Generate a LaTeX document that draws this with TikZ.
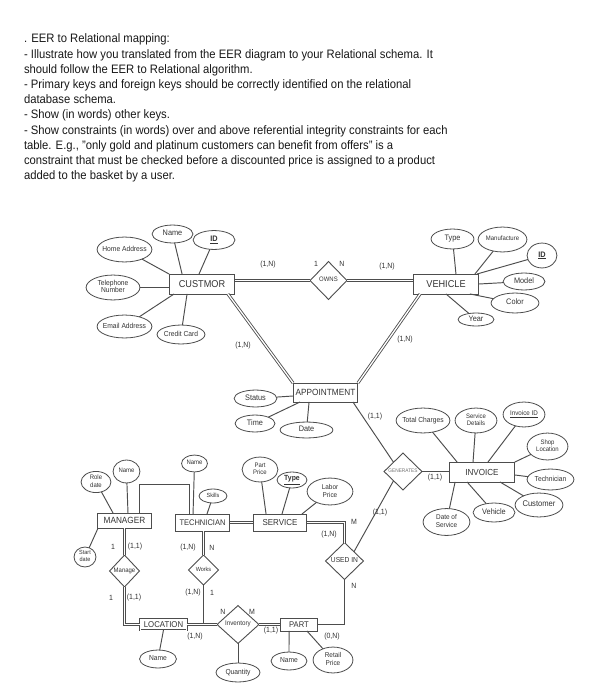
\documentclass[tikz,border=0pt]{standalone}
\usepackage{fontspec}
\setmainfont[FakeStretch=0.92]{Liberation Sans}
\usetikzlibrary{shapes.geometric}
\definecolor{lc}{HTML}{4D4D4D}
\definecolor{tc}{HTML}{333333}
\newcommand{\fsz}[1]{\fontsize{#1}{#1}\selectfont}
\newcommand{\tx}[1]{\makebox[0pt]{\begin{tabular}{@{}c@{}}#1\end{tabular}}}
\begin{document}
\begin{tikzpicture}[x=1bp,y=-1bp,
  every node/.style={inner sep=0pt, outer sep=0pt},
  ln/.style={draw=lc, line width=0.95bp},
  dbl/.style={draw=lc, line width=0.85bp, double=white, double distance=1.3bp},
  attr/.style={ellipse, draw=lc, line width=0.8bp, text=tc, font=\fontsize{7.3}{7.8}\selectfont},
  ent/.style={rectangle, draw=lc, line width=0.9bp, text=tc},
  rel/.style={diamond, draw=lc, line width=0.9bp, text=tc},
  card/.style={text=tc, font=\fsz{7.6}},
  para/.style={anchor=base west, text=black!90, font=\fsz{12.3}}
]
\useasboundingbox[fill=white] (0,0) rectangle (607,700);

% ---------- text ----------
\node[para] (t1) at (24,43.0) {. EER to Relational mapping:};
\node[para] (t2) at (24,58.2) {- Illustrate how you translated from the EER diagram to your Relational schema. It};
\node[para] (t3) at (24,73.4) {should follow the EER to Relational algorithm.};
\node[para] (t4) at (24,88.6) {- Primary keys and foreign keys should be correctly identified on the relational};
\node[para] (t5) at (24,103.8) {database schema.};
\node[para] (t6) at (24,119.0) {- Show (in words) other keys.};
\node[para] (t7) at (24,134.2) {- Show constraints (in words) over and above referential integrity constraints for each};
\node[para] (t8) at (24,149.4) {table. E.g., "only gold and platinum customers can benefit from offers" is a};
\node[para] (t9) at (24,164.6) {constraint that must be checked before a discounted price is assigned to a product};
\node[para] (t10) at (24,179.8) {added to the basket by a user.};

% ---------- entities ----------
\node[ent, minimum width=66, minimum height=20, font=\fsz{10}] (cust) at (202,284) {CUSTMOR};
\node[ent, minimum width=66, minimum height=20, font=\fsz{10}] (veh) at (446,284) {VEHICLE};
\node[ent, minimum width=65, minimum height=19, font=\fsz{9}] (appt) at (325.5,392.5) {APPOINTMENT};
\node[ent, minimum width=66, minimum height=20, font=\fsz{8.8}] (inv) at (482,472) {INVOICE};
\node[ent, minimum width=55, minimum height=15, font=\fsz{9}] (mgr) at (124.5,520.5) {MANAGER};
\node[ent, minimum width=55, minimum height=17, font=\fsz{8.2}] (tech) at (202.5,522.5) {TECHNICIAN};
\node[ent, minimum width=54, minimum height=17, font=\fsz{8.7}] (serv) at (280,522.5) {SERVICE};
\node[ent, minimum width=38, minimum height=13, font=\fsz{8.3}] (part) at (299,624.5) {PART};
\node[ent, double=white, double distance=0.9bp, line width=0.6bp, minimum width=47, minimum height=11, font=\fsz{8.5}] (loc) at (163.5,624.5) {LOCATION};

% ---------- relationships ----------
\node[rel, minimum width=37, minimum height=38, font=\fsz{6.5}] (owns) at (328.5,280.5) {\tx{OWNS}};
\node[rel, minimum width=38, minimum height=37, font=\fsz{5.2}, text=tc!70] (gen) at (403,471.5) {\tx{GENERATES}};
\node[rel, minimum width=38, minimum height=37, font=\fsz{7.3}] (used) at (344.5,561) {\tx{USED IN}};
\node[rel, minimum width=30, minimum height=32, font=\fsz{6.5}] (manage) at (124.5,571) {\tx{Manage}};
\node[rel, minimum width=30, minimum height=30, font=\fsz{6}] (works) at (203.5,570) {\tx{Works}};
\node[rel, minimum width=42, minimum height=38, font=\fsz{6.8}] (invt) at (238,624.5) {\tx{Inventory}};

% ---------- attributes ----------
\node[attr, minimum width=41, minimum height=18, font=\fsz{8}] (cname) at (172.5,234) {\tx{Name}};
\node[attr, minimum width=42, minimum height=19, font=\fsz{8}] (cid) at (214,240) {\tx{\textbf{\underline{ID}}}};
\node[attr, minimum width=55, minimum height=25] (chome) at (124.5,249.5) {\tx{Home Address}};
\node[attr, minimum width=54, minimum height=25] (ctel) at (113,287.5) {\tx{Telephone\\Number}};
\node[attr, minimum width=55, minimum height=23] (cemail) at (124.5,326.5) {\tx{Email Address}};
\node[attr, minimum width=48, minimum height=19] (ccard) at (181,334.5) {\tx{Credit Card}};

\node[attr, minimum width=43, minimum height=20, font=\fsz{8}] (vtype) at (452.5,239) {\tx{Type}};
\node[attr, minimum width=49, minimum height=25, font=\fsz{6.5}] (vman) at (502.5,239.5) {\tx{Manufacture}};
\node[attr, minimum width=30, minimum height=25, font=\fsz{8}] (vid) at (542,255.5) {\tx{\textbf{\underline{ID}}}};
\node[attr, minimum width=42, minimum height=17, font=\fsz{8}] (vmodel) at (524,281.5) {\tx{Model}};
\node[attr, minimum width=48, minimum height=20, font=\fsz{8}] (vcolor) at (515,303) {\tx{Color}};
\node[attr, minimum width=36, minimum height=13, font=\fsz{8}] (vyear) at (476,319.5) {\tx{Year}};

\node[attr, minimum width=43, minimum height=17, font=\fsz{8}] (astatus) at (255.5,398.5) {\tx{Status}};
\node[attr, minimum width=40, minimum height=17, font=\fsz{8}] (atime) at (255,423.5) {\tx{Time}};
\node[attr, minimum width=53, minimum height=16, font=\fsz{8}] (adate) at (306.5,430) {\tx{Date}};

\node[attr, minimum width=54, minimum height=25] (itotal) at (423,420.5) {\tx{Total Charges}};
\node[attr, minimum width=42, minimum height=25, font=\fontsize{6.5}{7.5}\selectfont] (isd) at (476,420.5) {\tx{Service\\Details}};
\node[attr, minimum width=42, minimum height=25, font=\fsz{6.8}] (iid) at (524,414.5) {\tx{\underline{Invoice ID}}};
\node[attr, minimum width=41, minimum height=27, font=\fontsize{6.5}{7.5}\selectfont] (ishop) at (547.5,446.5) {\tx{Shop\\Location}};
\node[attr, minimum width=47, minimum height=21] (itech) at (550.5,479.5) {\tx{Technician}};
\node[attr, minimum width=48, minimum height=24, font=\fsz{8.3}] (icust) at (539,505) {\tx{Customer}};
\node[attr, minimum width=42, minimum height=19, font=\fsz{8}] (iveh) at (494,512.5) {\tx{Vehicle}};
\node[attr, minimum width=47, minimum height=27, font=\fontsize{7}{8}\selectfont] (idate) at (446.5,522) {\tx{Date of\\Service}};

\node[attr, minimum width=30, minimum height=20, font=\fontsize{6.5}{7.5}\selectfont] (mrole) at (96,482) {\tx{Role\\date}};
\node[attr, minimum width=27, minimum height=23, font=\fsz{6.5}] (mname) at (126.5,471.5) {\tx{Name}};
\node[attr, minimum width=22, minimum height=20, font=\fontsize{6}{7}\selectfont] (mstart) at (85,557) {\tx{Start\\date}};

\node[attr, minimum width=26, minimum height=17, font=\fsz{6.5}] (tname) at (194.5,463.5) {\tx{Name}};
\node[attr, minimum width=28, minimum height=14, font=\fsz{6}] (tskills) at (213,496) {\tx{Skills}};

\node[attr, minimum width=36, minimum height=25, font=\fontsize{6.5}{7.5}\selectfont] (spp) at (260,469.5) {\tx{Part\\Price}};
\node[attr, minimum width=30, minimum height=16, font=\fsz{7.5}] (stype) at (292,480) {\tx{\textbf{\underline{Type}}}};
\node[attr, minimum width=46, minimum height=27, font=\fontsize{7}{8}\selectfont] (slp) at (330,491.5) {\tx{Labor\\Price}};

\node[attr, minimum width=36, minimum height=18] (pname) at (289,661) {\tx{Name}};
\node[attr, minimum width=40, minimum height=26, font=\fontsize{7}{8}\selectfont] (prp) at (333,660) {\tx{Retail\\Price}};
\node[attr, minimum width=37, minimum height=18] (lname) at (158,659) {\tx{Name}};
\node[attr, minimum width=44, minimum height=19] (qty) at (238,672.5) {\tx{Quantity}};

% ---------- connectors ----------
\draw[dbl] (owns.west) -- (owns.west -| cust.east);
\draw[dbl] (owns.east) -- (owns.east -| veh.west);
\draw[dbl] ([xshift=-7pt]cust.south east) -- (appt.north west);
\draw[dbl] ([xshift=7pt]veh.south west) -- (appt.north east);
\draw[ln] ([xshift=-5pt]appt.south east) -- (gen.north west);
\draw[ln] (gen.south west) -- (used.north east);
\draw[ln] (gen.east) -- (gen.east -| inv.west);

\draw[ln] (chome) -- (cust.north west);
\draw[ln] (cname) -- ([xshift=-20pt]cust.north);
\draw[ln] (cid) -- ([xshift=-3pt]cust.north);
\draw[ln] (ctel.east) -- (ctel.east -| cust.west);
\draw[ln] (cemail) -- ([xshift=5pt]cust.south west);
\draw[ln] (ccard) -- ([xshift=-15pt]cust.south);

\draw[ln] (vtype) -- ([xshift=10pt]veh.north);
\draw[ln] (vman) -- ([xshift=-4pt]veh.north east);
\draw[ln] (vid) -- ([xshift=-2pt]veh.north east);
\draw[ln] (vmodel) -- (veh.east);
\draw[ln] (vcolor) -- ([xshift=-9pt]veh.south east);
\draw[ln] (vyear) -- (veh.south);

\draw[ln] (astatus) -- ([yshift=-3.5pt]appt.west);
\draw[ln] (atime) -- ([xshift=7pt]appt.south west);
\draw[ln] (adate) -- ([xshift=16pt]appt.south west);

\draw[ln] (itotal) -- ([xshift=8pt]inv.north west);
\draw[ln] (isd) -- ([xshift=-9pt]inv.north);
\draw[ln] (iid) -- ([xshift=6pt]inv.north);
\draw[ln] (ishop) -- (inv.north east);
\draw[ln] (itech) -- ([yshift=-3pt]inv.east);
\draw[ln] (icust) -- ([xshift=18pt]inv.south);
\draw[ln] (iveh) -- ([xshift=-15pt]inv.south);
\draw[ln] (idate) -- ([xshift=6pt]inv.south west);

\draw[ln] (mrole) -- ([xshift=16pt]mgr.north west);
\draw[ln] (mname) -- ([xshift=3.5pt]mgr.north);
\draw[ln] (mstart) -- ([xshift=1pt]mgr.south west);
\coordinate (mA) at ([xshift=15pt]mgr.north);
\coordinate (tA) at ([xshift=-13pt]tech.north);
\draw[ln] (mA) -- ++(0,-29) -| (tA);
\draw[dbl] (manage.north) -- (manage.north |- mgr.south);
\draw[dbl] (manage.south) |- (loc.west);

\draw[ln] (tname) -- ([xshift=-9.5pt]tech.north);
\draw[ln] (tskills) -- ([xshift=4.5pt]tech.north);
\draw[dbl] (tech.east) -- (serv.west);
\draw[dbl] (works.north) -- (works.north |- tech.south);
\draw[ln] (works.south) -- (works.south |- loc.east);

\draw[ln] (spp) -- ([xshift=-14pt]serv.north);
\draw[ln] (stype) -- ([xshift=2pt]serv.north);
\draw[ln] (slp) -- ([xshift=-5pt]serv.north east);
\draw[dbl] (serv.east) -| (used.north);
\draw[ln] (used.south) |- (part.east);

\draw[ln] (pname) -- ([xshift=-10pt]part.south);
\draw[ln] (prp) -- ([xshift=8pt]part.south);
\draw[dbl] (invt.east) -- (invt.east -| part.west);
\draw[ln] (invt.south) -- (qty);
\draw[dbl] (loc.east) -- (loc.east -| invt.west);
\draw[ln] (lname) -- (loc.south);

% ---------- cardinalities ----------
\node[card] (k1) at (268,265) {(1,N)};
\node[card] (k2) at (316,264) {1};
\node[card] (k3) at (342,264) {N};
\node[card] (k4) at (387,267) {(1,N)};
\node[card] (k5) at (243,346) {(1,N)};
\node[card] (k6) at (405,340) {(1,N)};
\node[card] (k7) at (375,417) {(1,1)};
\node[card] (k8) at (435,478) {(1,1)};
\node[card] (k9) at (380,513) {(1,1)};
\node[card] (k10) at (354,522) {M};
\node[card] (k11) at (329,535) {(1,N)};
\node[card] (k12) at (354,586) {N};
\node[card] (k13) at (332,637) {(0,N)};
\node[card] (k14) at (271,631) {(1,1)};
\node[card] (k15) at (223,612) {N};
\node[card] (k16) at (252,612) {M};
\node[card] (k17) at (195,637) {(1,N)};
\node[card] (k18) at (193,593) {(1,N)};
\node[card] (k19) at (212,593) {1};
\node[card] (k20) at (111,598) {1};
\node[card] (k21) at (134,598) {(1,1)};
\node[card] (k22) at (113,547) {1};
\node[card] (k23) at (135,547) {(1,1)};
\node[card] (k24) at (188,548) {(1,N)};
\node[card] (k25) at (212,548) {N};
\end{tikzpicture}
\end{document}
